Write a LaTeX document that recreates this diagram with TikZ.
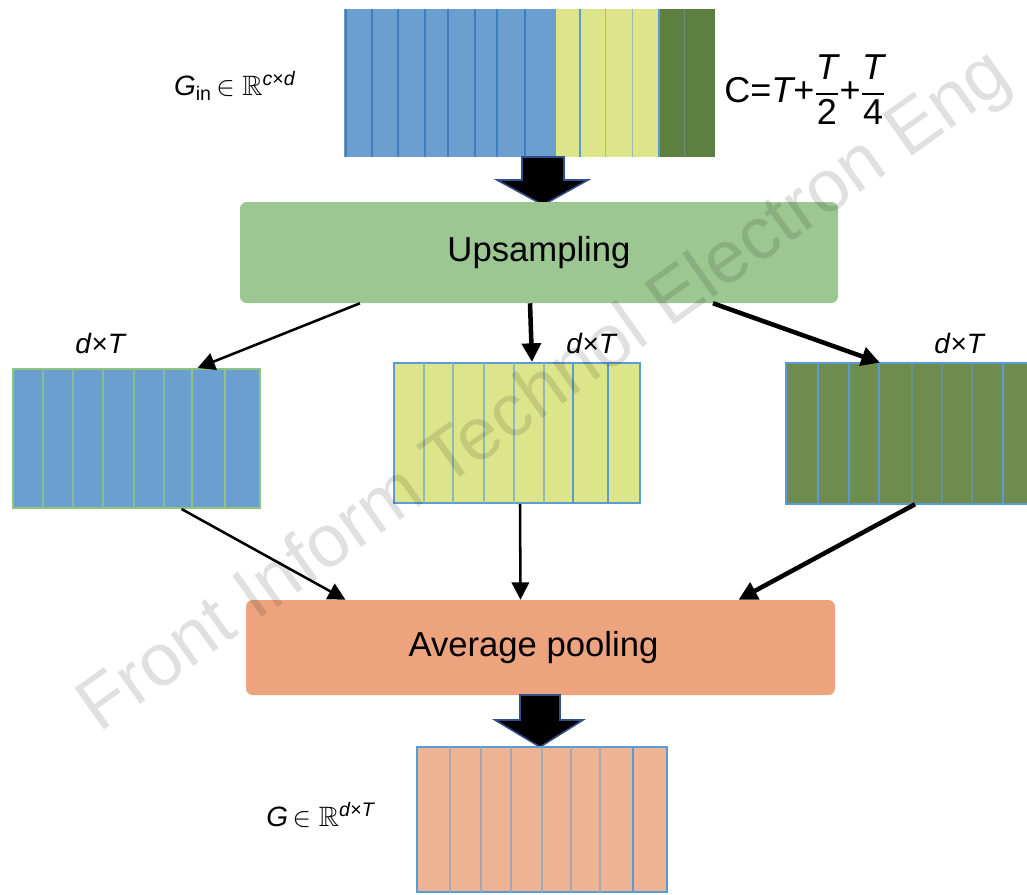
\documentclass[tikz,border=0pt]{standalone}
\usepackage{fontspec}
\setmainfont{Liberation Sans}
\usepackage{amsmath,amssymb}
\usetikzlibrary{arrows.meta,calc,fit}
\definecolor{blueF}{HTML}{6B9FCF}
\definecolor{blueD}{HTML}{3F7FC0}
\definecolor{yellowF}{HTML}{DDE58A}
\definecolor{dgreenT}{HTML}{5B8040}
\definecolor{dgreenM}{HTML}{6F8C4F}
\definecolor{greenbox}{HTML}{9DC792}
\definecolor{orangebox}{HTML}{EDA47E}
\definecolor{salmon}{HTML}{EEB393}
\definecolor{borderB}{HTML}{5B9BD5}
\definecolor{borderG}{HTML}{90C47F}
\definecolor{arrowEdge}{HTML}{2F4F8F}
\begin{document}
\begin{tikzpicture}[x=0.75pt,y=-0.75pt,
  bigbox/.style={inner sep=0pt, rounded corners=5pt},
  featbar/.style={inner sep=0pt, line width=1.5pt},
  divider/.style={line width=1.1pt},
  conn/.style={line width=1.9pt, -{Triangle[length=13pt,width=13pt]}},
  connthick/.style={line width=3.4pt, -{Triangle[length=14pt,width=14pt]}},
  blockarrow/.style={fill=black, draw=arrowEdge, line width=1.2pt, line join=miter},
  boxlabel/.style={font=\fontsize{26}{30}\selectfont},
  dimlabel/.style={font=\fontsize{21}{25}\selectfont}]
\useasboundingbox (0,0) rectangle (1027,895);

% ---------- top input bar ----------
\fill[blueF] (344,9) rectangle (556,157);
\fill[yellowF] (556,9) rectangle (659,157);
\fill[dgreenT] (659,9) rectangle (715,157);
\node[featbar, fit={(344,9)(715,157)}] (gin) {};
\foreach \x in {346,372,398,425,448,475,497,525}
  \draw[divider, blueD] (\x,9) -- (\x,157);
\draw[divider, borderB] (580,9) -- (580,157);
\foreach \x in {605,632}
  \draw[line width=0.6pt, blueF!60!yellowF] (\x,9) -- (\x,157);
\draw[line width=1.5pt, borderB] (659,9) -- (659,157);
\draw[line width=0.7pt, blueF!50!dgreenT] (684,9) -- (684,157);

\node[dimlabel, anchor=center] (ginlabel) at (235,86)
  {\textit{G}\textsubscript{in}$\,\in\mathbb{R}$\textsuperscript{\textit{c}×\textit{d}}};
\node[font=\fontsize{27}{31}\selectfont, anchor=west, inner sep=0pt] (clabel) at (724,90)
  {$\displaystyle\text{C=}\textit{T}\text{+}\frac{\textit{T}}{\text{2}}\text{+}\frac{\textit{T}}{\text{4}}$};

% ---------- block arrow 1 ----------
\coordinate (a1) at (543,157);
\draw[blockarrow] ($(a1)+(-21,0)$) -- ++(0,23) -- ++(-25,0) -- ($(a1)+(0,48)$)
  -- ($(a1)+(45,23)$) -- ($(a1)+(21,23)$) -- ($(a1)+(21,0)$) -- cycle;

% ---------- upsampling ----------
\node[bigbox, fill=greenbox, fit={(240,202)(838,303)}] (up) {};
\node[boxlabel] at (up.center) {Upsampling};

% ---------- three middle bars ----------
% left (blue)
\node[featbar, fill=blueF, draw=borderG, fit={(13,369)(260,508)}] (lb) {};
\foreach \x in {43,73,103,134,164}
  \draw[line width=0.8pt, borderG!70!blueF] (\x,369) -- (\x,508);
\foreach \x in {192,225}
  \draw[line width=2.2pt, borderG] (\x,369) -- (\x,508);
\node[dimlabel] (lbl) at (101,343) {\textit{d}×\textit{T}};

% middle (yellow)
\node[featbar, fill=yellowF, draw=borderB, fit={(394,363)(640,503)}] (mb) {};
\foreach \x in {424,453,484,514,544}
  \draw[line width=0.8pt, borderB!60!yellowF] (\x,363) -- (\x,503);
\foreach \x in {573,608}
  \draw[line width=2pt, borderB] (\x,363) -- (\x,503);
\node[dimlabel] (mbl) at (592,343) {\textit{d}×\textit{T}};

% right (dark green)
\fill[dgreenM] (786,363) rectangle (1027,504);
\draw[line width=1.5pt, borderB] (1027,363) -- (786,363) -- (786,504) -- (1027,504);
\node[inner sep=0pt, fit={(786,363)(1030,504)}] (rb) {};
\foreach \x in {818,849,879,1003}
  \draw[line width=2pt, borderB] (\x,363) -- (\x,504);
\foreach \x in {912,942,972}
  \draw[line width=0.8pt, borderB!50!dgreenM] (\x,363) -- (\x,504);
\node[dimlabel] (rbl) at (960,343) {\textit{d}×\textit{T}};

% ---------- average pooling ----------
\node[bigbox, fill=orangebox, fit={(246,600)(835,695)}] (ap) {};
\node[boxlabel] at ($(ap.center)+(-7,0)$) {Average pooling};

% ---------- connectors ----------
\draw[conn] ($(up.south)+(-179,0)$) -- ($(lb.north)+(61,0)$);
\draw[connthick] ($(up.south)+(-9,0)$) -- ($(mb.north)+(15,0)$);
\draw[connthick] ($(up.south)+(174,0)$) -- ($(rb.north)+(-28,0)$);
\draw[conn] ($(lb.south)+(45,0)$) -- ($(ap.north)+(-195,0)$);
\draw[conn] ($(mb.south)+(3,0)$) -- ($(ap.north)+(-20,0)$);
\draw[connthick] ($(rb.south)+(7,0)$) -- ($(ap.north)+(198,0)$);

% ---------- block arrow 2 ----------
\coordinate (a2) at (540,695);
\draw[blockarrow] ($(a2)+(-20,0)$) -- ++(0,25) -- ++(-25,0) -- ($(a2)+(0,52)$)
  -- ($(a2)+(43,25)$) -- ($(a2)+(20,25)$) -- ($(a2)+(20,0)$) -- cycle;

% ---------- output bar ----------
\node[featbar, fill=salmon, draw=borderB, fit={(417,747)(667,892)}] (gout) {};
\foreach \x in {450,481,511,542,571,600}
  \draw[line width=0.8pt, borderB!50!salmon] (\x,747) -- (\x,892);
\foreach \x in {633}
  \draw[line width=2pt, borderB] (\x,747) -- (\x,892);
\node[dimlabel] (glabel) at (321,815) {\textit{G}$\,\in\mathbb{R}$\textsuperscript{\textit{d}×\textit{T}}};

% ---------- watermark ----------
\node[rotate=35.4, anchor=base west, inner sep=0pt, text=black, opacity=0.12,
  font=\fontsize{55.5}{60}\selectfont] (wm) at (99,734) {Front Inform Technol Electron Eng};
\end{tikzpicture}
\end{document}
